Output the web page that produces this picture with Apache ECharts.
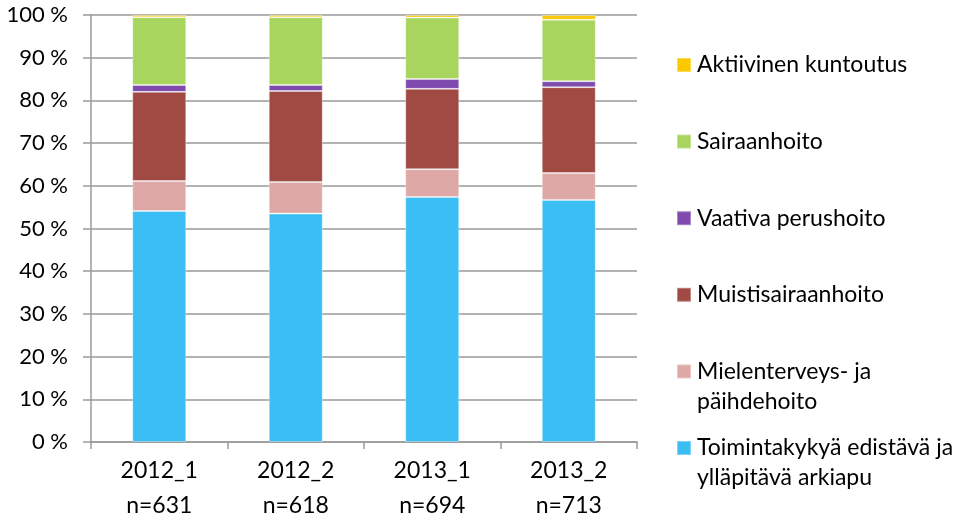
<!DOCTYPE html>
<html>
	<head>
		<meta charset="utf-8">
		<title>Palvelutarve</title>
		<style type="text/css">
			html, body { margin: 0; padding: 0; background: #fff; }
			#main { width: 963px; height: 527px; }
		</style>
	</head>
	<body>
		<div id="main"></div>
		<script src="https://cdn.jsdelivr.net/npm/echarts@6/dist/echarts.min.js" type="text/javascript"></script>
		<script type="text/javascript">
			var myChart = echarts.init(document.getElementById('main'));

			// kategoriat
			var periods = ['2012_1', '2012_2', '2013_1', '2013_2'];
			var counts = ['n=631', 'n=618', 'n=694', 'n=713'];

			// osuudet (%), alimmasta ylimpään
			var toimintakyky = [54.1, 53.5, 57.4, 56.7];
			var mielenterveys = [7.0, 7.4, 6.5, 6.3];
			var muisti = [20.9, 21.3, 18.8, 20.1];
			var vaativa = [1.6, 1.4, 2.3, 1.4];
			var sairaanhoito = [15.9, 15.9, 14.4, 14.4];
			var aktiivinen = [0.5, 0.5, 0.6, 1.1];

			var yTicks = [0, 10, 20, 30, 40, 50, 60, 70, 80, 90, 100];

			var seriesDefs = [
				{ name: 'Toimintakykyä edistävä ja\nylläpitävä arkiapu', data: toimintakyky, color: '#3BBEF4' },
				{ name: 'Mielenterveys- ja\npäihdehoito', data: mielenterveys, color: '#DDA8A5' },
				{ name: 'Muistisairaanhoito', data: muisti, color: '#A14A44' },
				{ name: 'Vaativa perushoito', data: vaativa, color: '#7F4AAE' },
				{ name: 'Sairaanhoito', data: sairaanhoito, color: '#A8D55D' },
				{ name: 'Aktiivinen kuntoutus', data: aktiivinen, color: '#FCC800' }
			];

			var font = 'Lato, "Noto Sans", sans-serif';

			// yksi legenda per rivi, ylhäältä alas
			var legends = [];
			for (var i = 0; i < seriesDefs.length; i++) {
				var s = seriesDefs[seriesDefs.length - 1 - i];
				var multi = s.name.indexOf('\n') >= 0;
				var h = multi ? 90 : 30;
				legends.push({
					data: [s.name],
					left: 676,
					top: 65 + i * 76.6 - h / 2,
					padding: 0,
					itemWidth: 14,
					itemHeight: 14,
					itemGap: 0,
					icon: 'rect',
					selectedMode: false,
					formatter: function (name) {
						return name.indexOf('\n') >= 0 ? '\n' + name : name;
					},
					textStyle: {
						fontFamily: font,
						fontSize: 23,
						lineHeight: 30,
						color: '#000',
						padding: [0, 0, 0, 1]
					}
				});
			}

			var option = {
				animation: false,
				backgroundColor: '#fff',
				grid: {
					left: 91,
					right: 326,
					top: 15,
					bottom: 85
				},
				legend: legends,
				xAxis: {
					type: 'category',
					data: periods,
					axisLine: { lineStyle: { color: '#9A9A9A', width: 1.5 } },
					axisTick: { show: true, length: 7, lineStyle: { color: '#9A9A9A', width: 1.5 } },
					axisLabel: {
						fontFamily: font,
						fontSize: 23,
						lineHeight: 35,
						color: '#000',
						margin: 11,
						formatter: function (v, idx) {
							return v + '\n' + counts[idx];
						}
					}
				},
				yAxis: {
					type: 'value',
					min: yTicks[0],
					max: yTicks[yTicks.length - 1],
					interval: 10,
					axisLine: { show: true, lineStyle: { color: '#9A9A9A', width: 1.5 } },
					axisTick: { show: true, length: 8, lineStyle: { color: '#9A9A9A', width: 1.5 } },
					splitLine: { lineStyle: { color: '#9A9A9A', width: 1.5 } },
					axisLabel: {
						fontFamily: font,
						fontSize: 22,
						color: '#000',
						margin: 23,
						formatter: '{value} %'
					}
				},
				series: seriesDefs.map(function (s) {
					return {
						name: s.name,
						type: 'bar',
						stack: 'total',
						barWidth: 54,
						data: s.data,
						itemStyle: {
							color: s.color,
							borderColor: 'rgba(255,255,255,0.35)',
							borderWidth: 1
						}
					};
				})
			};
			myChart.setOption(option);
		</script>
	</body>
</html>
